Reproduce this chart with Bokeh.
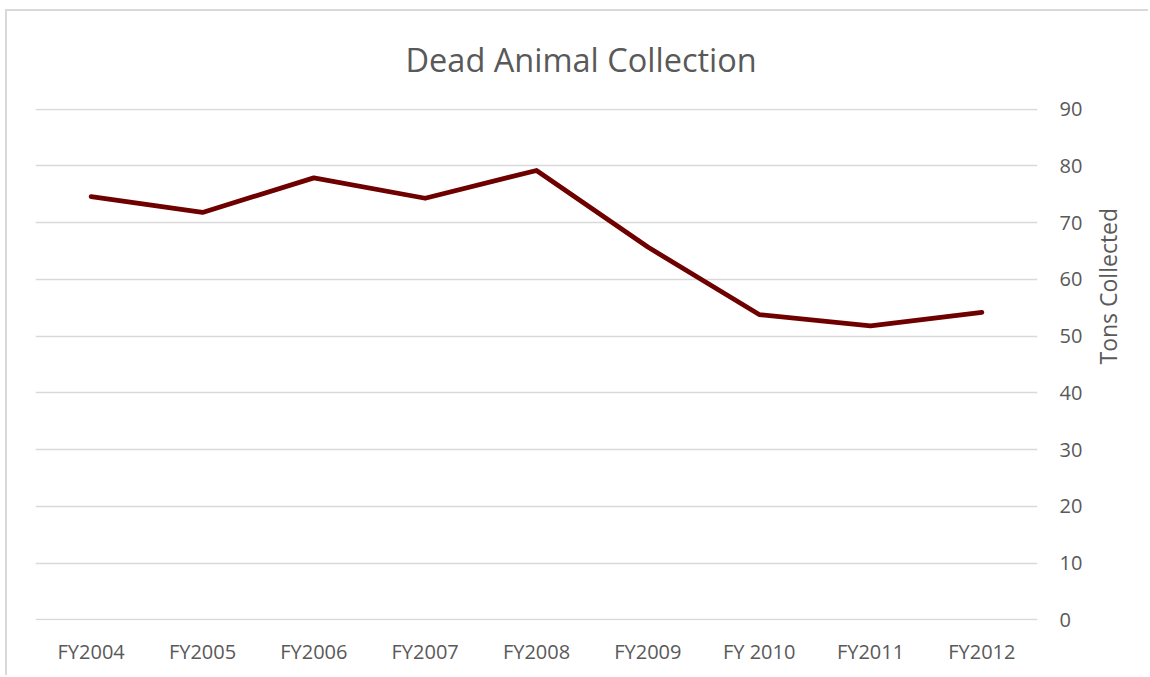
import math

from bokeh.plotting import figure
from bokeh.models import LinearAxis, Range1d, FactorRange, SingleIntervalTicker
from bokeh.embed import file_html
from bokeh.resources import INLINE

# Fiscal years and tons of dead animals collected
years = ["FY2004", "FY2005", "FY2006", "FY2007", "FY2008",
         "FY2009", "FY 2010", "FY2011", "FY2012"]
tons = [74.6, 71.8, 77.9, 74.3, 79.2, 65.7, 53.8, 51.8, 54.2]

TEXT = "#595959"
GRID = "#d9d9d9"
FONT = "Open Sans"

p = figure(
    width=1143, height=666,
    x_range=FactorRange(*years, range_padding=0),
    y_range=Range1d(-0.12, 90.12),
    output_backend="svg", toolbar_location=None,
    y_axis_location=None,
    min_border_left=28, min_border_right=113,
    min_border_top=97, min_border_bottom=57,
)
# chart area border on the top and left edges
p.margin = (11, 0, 0, 7)
p.styles = {"box-shadow": f"-2px -2px 0 0 {GRID}"}
p.outline_line_color = None
p.background_fill_color = "white"
p.border_fill_color = "white"

p.title.text = "Dead Animal Collection"
p.title.align = "left"
p.title.vertical_align = "top"
p.title.offset = 370
p.title.text_font = FONT
p.title.text_font_size = "32.5px"
p.title.text_font_style = "normal"
p.title.text_color = TEXT
p.title.standoff = 50

p.line(x=years, y=tons, line_color="#6e0000", line_width=4.8,
       line_join="round", line_cap="round")

# Value axis on the right, label reading upwards
yaxis = LinearAxis(ticker=SingleIntervalTicker(interval=10),
                   axis_label="Tons Collected")
yaxis.axis_line_color = None
yaxis.major_tick_line_color = None
yaxis.minor_tick_line_color = None
yaxis.major_label_text_font = FONT
yaxis.major_label_text_font_size = "20px"
yaxis.major_label_text_color = TEXT
yaxis.major_label_standoff = 16
yaxis.axis_label_text_font = FONT
yaxis.axis_label_text_font_size = "23px"
yaxis.axis_label_text_font_style = "normal"
yaxis.axis_label_text_color = TEXT
yaxis.axis_label_standoff = 23
yaxis.axis_label_orientation = math.pi / 2
p.add_layout(yaxis, "right")

xaxis = p.xaxis[0]
xaxis.axis_line_color = None
xaxis.major_tick_line_color = None
xaxis.minor_tick_line_color = None
xaxis.major_label_text_font = FONT
xaxis.major_label_text_font_size = "20px"
xaxis.major_label_text_color = TEXT
xaxis.major_label_standoff = 11

p.xgrid.grid_line_color = None
p.ygrid.ticker = SingleIntervalTicker(interval=10)
p.ygrid.grid_line_color = GRID
p.ygrid.grid_line_width = 1.5

open("out.html", "w").write(file_html(p, INLINE))
